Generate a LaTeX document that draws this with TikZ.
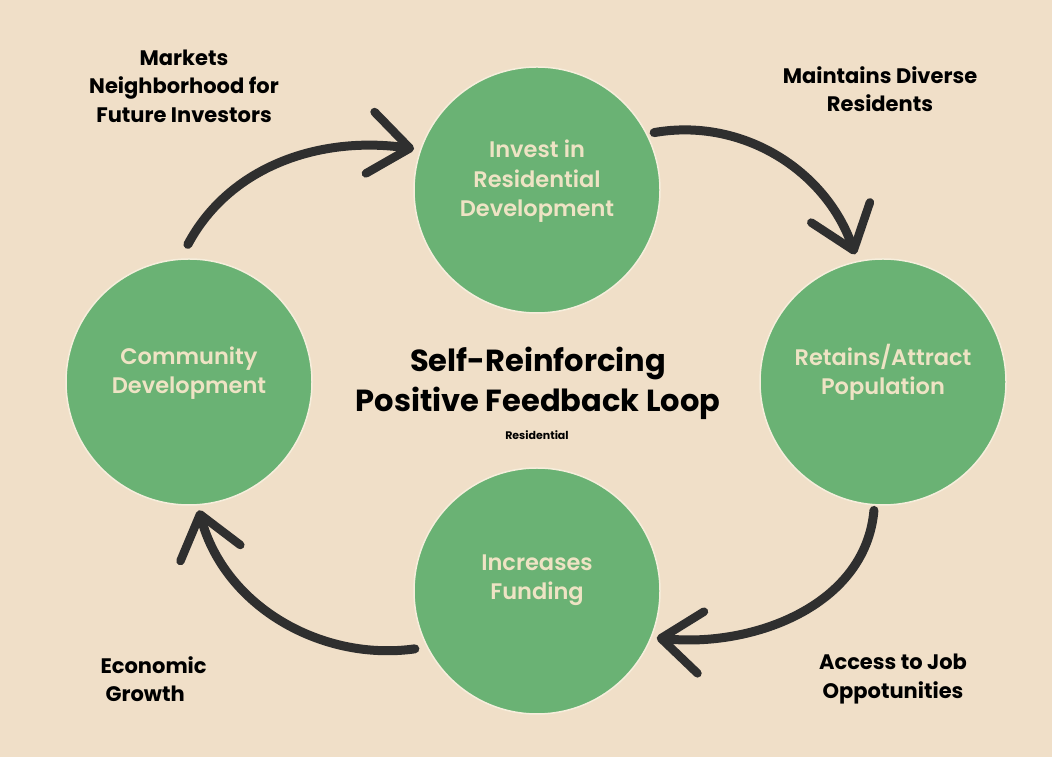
\documentclass[tikz,border=0pt]{standalone}
\usepackage{fontspec}
\setmainfont{Poppins}
\newfontfamily\medfont{Poppins SemiBold}
\usetikzlibrary{arrows.meta}
\definecolor{bg}{RGB}{240,223,200}
\definecolor{leaf}{RGB}{106,178,116}
\definecolor{cream}{RGB}{238,227,196}
\definecolor{ring}{RGB}{246,238,220}
\definecolor{ink}{RGB}{47,47,47}
\tikzset{
  loopcircle/.style={circle, fill=leaf, draw=ring, line width=1.5pt, minimum size=246pt, inner sep=0pt,
    text=cream, align=center, font=\medfont\fontsize{22.5}{29.5}\selectfont},
  lbl/.style={align=center, text=black, font=\bfseries\fontsize{21}{28.5}\selectfont},
  brush/.style={draw=ink, line width=9pt, line cap=round,
    -{Straight Barb[length=40pt,width=62pt,line width=8.5pt,round]}},
}
\begin{document}
\begin{tikzpicture}[x=1pt,y=1pt]
\fill[bg] (0,0) rectangle (1052,757);
\useasboundingbox (0,0) rectangle (1052,757);

\node[loopcircle] (T) at (537,567) {Invest in\\Residential\\Development\\[-6pt]};
\node[loopcircle] (R) at (883,375) {Retains/Attract\\Population\\[-4pt]};
\node[loopcircle] (B) at (537,166) {Increases\\Funding\\[-2pt]};
\node[loopcircle] (L) at (189,375) {Community\\Development\\[-6pt]};

\node[align=center, font=\bfseries\fontsize{30.5}{40}\selectfont] (title) at (538,374) {Self-Reinforcing\\Positive Feedback Loop};
\node[font=\bfseries\fontsize{11}{13}\selectfont] (sub) at (537,322) {Residential};

\node[lbl] (l1) at (184,671) {Markets\\Neighborhood for\\Future Investors};
\node[lbl] (l2) at (880,668) {Maintains Diverse\\Residents};
\node[lbl] (l3) at (893,78) {Access to Job\\Oppotunities};
\node[lbl, align=left, anchor=west] (l4) at (97,78) {Economic\\\hspace{5pt}Growth};

\draw[brush, shorten <=16pt, shorten >=6pt] (L.94) to[out=62, in=172] (T.161);
\draw[brush, shorten <=7pt, shorten >=7pt] (T.27) to[out=10, in=109] (R.102);
\draw[brush, shorten <=5pt, shorten >=5pt] (R.266) to[out=-95, in=-6] (B.-22);
\draw[brush, shorten <=12pt, shorten >=5pt] (B.207) to[out=188, in=-75] (L.-86);
\end{tikzpicture}
\end{document}
